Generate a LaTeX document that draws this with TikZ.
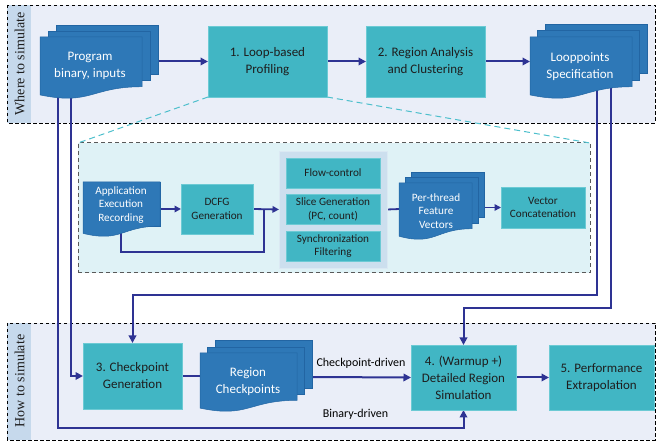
\documentclass[tikz,border=0pt]{standalone}
\usepackage{fontspec}
\setmainfont{Carlito}
\newfontfamily\serifface{Liberation Serif}
\usetikzlibrary{arrows.meta,calc}
\pgfdeclarelayer{bg}
\pgfdeclarelayer{conn}
\pgfsetlayers{bg,conn,main}
\definecolor{panelfill}{HTML}{EAEEF8}
\definecolor{stripc}{HTML}{C6D9EC}
\definecolor{tealc}{HTML}{41B6C4}
\definecolor{tealedge}{HTML}{6CCAD4}
\definecolor{docblue}{HTML}{2E78B7}
\definecolor{docedge}{HTML}{2265A3}
\definecolor{navy}{HTML}{2E3393}
\definecolor{midfill}{HTML}{DFF2F6}
\definecolor{groupfill}{HTML}{CCDFEE}
\definecolor{cyanline}{HTML}{4DBFCC}
\definecolor{textdark}{HTML}{1E1E1E}
\newcommand{\multidoc}[6]{%
  \path[docshape] ({#1+2*#5},{#2-2*#6}) rectangle ({#1+2*#5+#3},{#2-2*#6+0.802*#4});
  \path[docshape] ({#1+#5},{#2-#6}) rectangle ({#1+#5+#3},{#2-#6+0.802*#4});
  \path[docshape] (#1,#2) -- ({#1+#3},#2) -- ({#1+#3},{#2+0.802*#4})
     .. controls ({#1+0.5*#3},{#2+0.802*#4}) and ({#1+0.5*#3},{#2+1.107*#4}) .. (#1,{#2+0.934*#4}) -- cycle;}
\begin{document}
\begin{tikzpicture}[x=1pt,y=-1pt,
  every node/.style={inner sep=0pt,outer sep=0pt},
  docshape/.style={fill=docblue,draw=docedge,line width=0.5pt},
  bigbox/.style={rectangle,fill=tealc,draw=tealedge,line width=0.5pt,align=center,text=textdark,font=\fontsize{13}{17}\selectfont},
  smallbox/.style={rectangle,fill=tealc,draw=tealedge,line width=0.5pt,align=center,text=textdark,font=\fontsize{11.2}{13.8}\selectfont},
  bigdoc/.style={align=center,text=white,font=\fontsize{13}{17}\selectfont},
  smalldoc/.style={align=center,text=white,font=\fontsize{11.2}{13.8}\selectfont},
  striptext/.style={rotate=90,text=textdark,font=\serifface\fontsize{14}{14}\selectfont},
  panel/.style={draw=black,dashed,dash pattern=on 3.5pt off 2.5pt,line width=0.9pt},
  arr/.style={draw=navy,line width=2pt,-{Triangle[length=7.5pt,width=7.5pt]}},
  sarr/.style={draw=navy,line width=1.8pt,-{Triangle[length=6.5pt,width=6.5pt]}},
  conline/.style={draw=navy,line width=2pt},
  sline/.style={draw=navy,line width=1.8pt},
  zoomline/.style={draw=cyanline,line width=1pt,dash pattern=on 6pt off 4pt},
  lbl/.style={text=black,font=\fontsize{12}{14}\selectfont}]
\useasboundingbox (0,0) rectangle (657,443);

% ---------- panels ----------
\begin{pgfonlayer}{bg}
  \fill[panelfill] (7,5) rectangle (655,123);
  \fill[stripc] (7,5) rectangle (31,123);
  \draw[panel] (7,5) rectangle (655,123);
  \fill[panelfill] (7,323) rectangle (655,440);
  \fill[stripc] (7,323) rectangle (31,440);
  \draw[panel] (7,323) rectangle (655,440);
  \node[fill=midfill,draw=black!65,line width=1pt,dash pattern=on 4pt off 3pt,
        minimum width=512pt,minimum height=130pt] (mid) at (334,208) {};
\end{pgfonlayer}
\node[striptext] (where) at (19.5,64) {Where to simulate};
\node[striptext] (how) at (19.5,381) {How to simulate};

% ---------- top row ----------
\multidoc{40}{37}{102}{62}{8}{6}
\node[bigdoc] (prog) at (90,66) {Program\\binary, inputs};
\node[bigbox,minimum width=119pt,minimum height=71pt] (b1) at (267.5,61.5) {1. Loop-based\\Profiling};
\node[bigbox,minimum width=119pt,minimum height=71pt] (b2) at (425.5,61.5) {2. Region Analysis\\and Clustering};
\multidoc{530}{37}{102}{62}{7.5}{6.5}
\node[bigdoc] (loop) at (580,67) {Looppoints\\Specification};
\coordinate (loopW) at (530,61.5);

% ---------- middle ----------
\multidoc{83}{182}{77}{55}{0}{0}
\node[smalldoc] (app) at (121,205) {Application\\Execution\\Recording};
\coordinate (appE) at (160,209);
\node[smallbox,minimum width=72pt,minimum height=50pt] (dcfg) at (217,209) {DCFG\\Generation};
\node[fill=groupfill,draw=groupfill!70!white,line width=0.8pt,minimum width=108pt,minimum height=117pt] (grp) at (333,209.5) {};
\node[smallbox,minimum width=94pt,minimum height=30pt] (flow) at (333,173) {Flow-control};
\node[smallbox,minimum width=94pt,minimum height=30pt] (slice) at (333,209) {Slice Generation\\(PC, count)};
\node[smallbox,minimum width=94pt,minimum height=30pt] (sync) at (333,246) {Synchronization\\Filtering};
\multidoc{399}{183}{73}{57}{6}{5.5}
\node[smalldoc] (pert) at (436,211) {Per-thread\\Feature\\Vectors};
\coordinate (pertW) at (400,209);
\coordinate (pertE) at (484,207.5);
\node[smallbox,minimum width=84pt,minimum height=41pt] (vec) at (543,207.5) {Vector\\Concatenation};

% ---------- bottom row ----------
\node[bigbox,minimum width=99pt,minimum height=66pt] (b3) at (132.5,376) {3. Checkpoint\\Generation};
\multidoc{200}{353}{97}{59}{7.5}{6.2}
\node[bigdoc] (reg) at (248,382) {Region\\Checkpoints};
\coordinate (regW) at (200,376);
\coordinate (regE) at (312,377);
\node[bigbox,minimum width=105pt,minimum height=65pt] (b4) at (463.5,377.5) {4. (Warmup +)\\Detailed Region\\Simulation};
\node[bigbox,minimum width=105pt,minimum height=65pt] (b5) at (601.5,377.5) {5. Performance\\Extrapolation};

% ---------- connectors ----------
\begin{pgfonlayer}{conn}
  \draw[zoomline] (b1.south west) -- (mid.north west);
  \draw[zoomline] (b1.south east) -- (mid.north east);
  \draw[arr] (prog.center |- b1.west) -- (b1.west);
  \draw[arr] (b1.east) -- (b2.west);
  \draw[arr] (b2.east) -- (loopW);
  % from program
  \draw[arr] (prog.center -| 58,0) ++(0,20) -- (58,428) -| (b4.south);
  \draw[arr] (prog.center -| 71,0) ++(0,20) |- (b3.west);
  % from looppoints
  \draw[arr] (loop.center -| 597,0) ++(0,20) -- (597,295) -| (b3.north);
  \draw[arr] (loop.center -| 611,0) ++(0,20) -- (611,308) -| (b4.north);
  % middle
  \draw[sarr] (appE) -- (dcfg.west);
  \draw[sarr] (dcfg.east) -- (grp.west);
  \coordinate (junc) at (264,209);
  \draw[sline] (app.center) ++(0,20) -- (121,252) -| (junc);
  \draw[sline] (grp.east) -- (pertW);
  \draw[sarr] (pertE) -- (vec.west);
  % bottom
  \draw[conline] (b3.east) -- (regW);
  \draw[arr] (regE) -- (b4.west);
  \draw[arr] (b4.east) -- (b5.west);
\end{pgfonlayer}
\node[lbl] (cdl) at (361,363) {Checkpoint-driven};
\node[lbl] (bdl) at (355.5,414) {Binary-driven};
\end{tikzpicture}
\end{document}
